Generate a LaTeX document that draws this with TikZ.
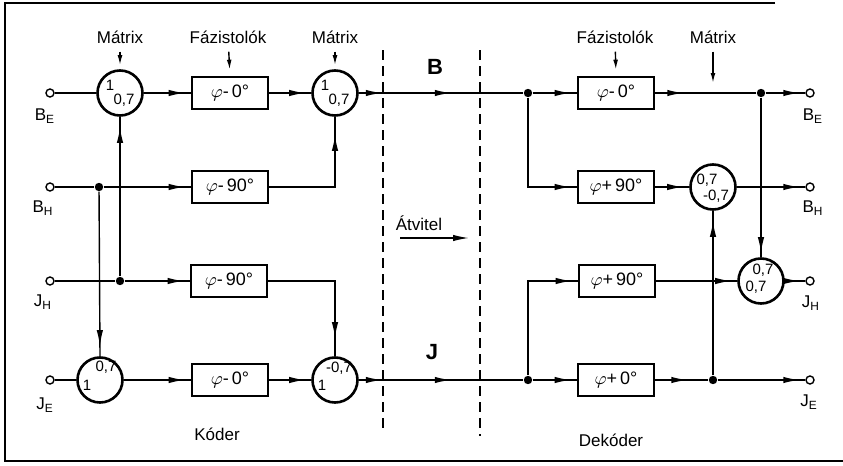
\documentclass[tikz,border=0pt]{standalone}
\usepackage{fontspec}
\setmainfont{Liberation Sans}
\usetikzlibrary{arrows.meta, decorations.markings}

\begin{document}
\begin{tikzpicture}[
    x=0.5pt, y=-0.5pt,
    >={Latex[length=8pt,width=3.2pt]},
    wire/.style={line width=0.7pt},
    arrow/.style={line width=0.7pt,-{Latex[length=5pt,width=2.4pt]}},
    flowto/.style={line width=0.7pt, decoration={markings, mark=at position #1 with {\arrow{>}}}, postaction={decorate}},
    flowto/.default=-3pt,
    phase/.style={rectangle, draw, line width=1.3pt, minimum width=38pt, minimum height=16pt, inner sep=1pt, font=\fontsize{9}{10}\selectfont},
    mixer/.style={circle, draw, line width=1.3pt, minimum size=22.5pt, inner sep=0pt},
    dot/.style={circle, fill, inner sep=0pt, minimum size=4.2pt},
    port/.style={circle, draw, fill=white, line width=0.7pt, inner sep=0pt, minimum size=4pt},
    coef/.style={inner sep=0pt, font=\fontsize{7.5}{8}\selectfont},
    caption/.style={inner sep=1pt, font=\fontsize{8.5}{9}\selectfont},
    channel/.style={inner sep=1pt, font=\fontsize{11}{12}\selectfont\bfseries},
    divider/.style={line width=0.7pt, dash pattern=on 5pt off 3pt}
]
\useasboundingbox (0,0) rectangle (843,466);

% Keret
\draw[line width=0.8pt] (775,3) -- (5,3) -- (5,461) -- (843,461);

% Bemenetek (kóder)
\node[port] (inBE) at (50,93) {};
\node[port] (inBH) at (50,187) {};
\node[port] (inJH) at (50,281) {};
\node[port] (inJE) at (50,380) {};
\node[caption] (lbinBE) at (45,116) {B\textsubscript{E}};
\node[caption] (lbinBH) at (43,208) {B\textsubscript{H}};
\node[caption] (lbinJH) at (43,302) {J\textsubscript{H}};
\node[caption] (lbinJE) at (45,405) {J\textsubscript{E}};

% Mátrixok és fázistolók (kóder)
\node[mixer] (m1) at (120,93) {};
\node[mixer] (m2) at (335,93) {};
\node[mixer] (m3) at (100,380) {};
\node[mixer] (m4) at (335,380) {};
\node[coef] (m1a) at (110,85) {1};
\node[coef] (m1b) at (124,100) {0,7};
\node[coef] (m2a) at (325,85) {1};
\node[coef] (m2b) at (339,100) {0,7};
\node[coef] (m3a) at (87,385) {1};
\node[coef] (m3b) at (106,367) {0,7};
\node[coef] (m4a) at (322,385) {1};
\node[coef] (m4b) at (339,368) {-0,7};

\node[phase] (f1) at (230,93) {$\varphi$-\,0°};
\node[phase] (f2) at (230,187) {$\varphi$-\,90°};
\node[phase] (f3) at (229,281) {$\varphi$-\,90°};
\node[phase] (f4) at (230,380) {$\varphi$-\,0°};

\node[dot] (jBH) at (99,187) {};
\node[dot] (jJH) at (120,281) {};

% Feliratok (kóder)
\node[caption] (lmx1) at (120,37) {Mátrix};
\node[caption] (lfz1) at (228,37) {Fázistolók};
\node[caption] (lmx2) at (335,37) {Mátrix};
\node[caption] (lkod) at (217,434) {Kóder};
\draw[arrow, shorten <=3pt, shorten >=2pt] (lmx1) -- (m1.north);
\draw[arrow, shorten <=3pt, shorten >=3pt] (lfz1) -- (f1.north);
\draw[arrow, shorten <=3pt, shorten >=2pt] (lmx2) -- (m2.north);

% Átvitel
\node[channel] (chB) at (435,67) {B};
\node[channel] (chJ) at (432,352) {J};
\node[caption] (ltx) at (419,223) {Átvitel};
\coordinate (txa) at (400,238);
\coordinate (txb) at (469,238);
\draw[wire, ->] (txa) -- (txb);
\coordinate (s1a) at (383,50);
\coordinate (s1b) at (383,430);
\coordinate (s2a) at (480,50);
\coordinate (s2b) at (480,436);
\draw[divider] (s1a) -- (s1b);
\draw[divider] (s2a) -- (s2b);

% Dekóder
\node[dot] (dotB) at (528,93) {};
\node[dot] (dotJ) at (528,380) {};
\node[phase] (g1) at (616,93) {$\varphi$-\,0°};
\node[phase] (g2) at (616,187) {$\varphi$+\,90°};
\node[phase] (g3) at (617,281) {$\varphi$+\,90°};
\node[phase] (g4) at (616,380) {$\varphi$+\,0°};
\node[mixer] (dm1) at (713,187) {};
\node[mixer] (dm2) at (761,281) {};
\node[coef] (dm1a) at (707,180) {0,7};
\node[coef] (dm1b) at (716,196) {-0,7};
\node[coef] (dm2a) at (763,270) {0,7};
\node[coef] (dm2b) at (756,287) {0,7};
\node[dot] (dotBE) at (761,93) {};
\node[dot] (dotJE) at (713,380) {};

\node[port] (outBE) at (810,93) {};
\node[port] (outBH) at (810,187) {};
\node[port] (outJH) at (810,281) {};
\node[port] (outJE) at (810,380) {};
\node[caption] (lboutBE) at (813,116) {B\textsubscript{E}};
\node[caption] (lboutBH) at (813,208) {B\textsubscript{H}};
\node[caption] (lboutJH) at (811,303) {J\textsubscript{H}};
\node[caption] (lboutJE) at (809,402) {J\textsubscript{E}};

\node[caption] (lfz2) at (615,37) {Fázistolók};
\node[caption] (lmx3) at (713,37) {Mátrix};
\node[caption] (ldek) at (611,440) {Dekóder};
\coordinate (dmx) at (713,83);
\draw[arrow, shorten <=3pt, shorten >=3pt] (lfz2) -- (g1.north);
\draw[arrow, shorten <=3pt] (lmx3) -- (dmx);

% JELUTAK - kóder
\draw[wire] (inBE) -- (m1);
\draw[flowto] (m1) -- (f1);
\draw[flowto] (f1) -- (m2);
\draw[wire] (inBH) -- (jBH);
\draw[flowto] (jBH) -- (f2);
\draw[flowto=-9pt] (f2.east) -| (m2.south);
\draw[wire] (inJH) -- (jJH);
\draw[flowto] (jJH) -- (f3);
\draw[flowto=-9pt] (f3.east) -| (m4.north);
\draw[wire] (inJE) -- (m3);
\draw[flowto] (m3) -- (f4);
\draw[flowto] (f4) -- (m4);
\draw[flowto=-5pt] (jBH) -- (m3.north);
\draw[flowto=-5pt] (jJH) -- (m1.south);

% JELUTAK - átvitel
\draw[wire, decoration={markings, mark=at position 11.5pt with {\arrow{>}}, mark=at position 46pt with {\arrow{>}}}, postaction={decorate}] (m2) -- (dotB);
\draw[wire, decoration={markings, mark=at position 11.5pt with {\arrow{>}}, mark=at position 46pt with {\arrow{>}}}, postaction={decorate}] (m4) -- (dotJ);

% JELUTAK - dekóder
\draw[flowto] (dotB) -- (g1);
\draw[flowto] (dotB) |- (g2.west);
\draw[flowto] (dotJ) -- (g4);
\draw[flowto] (dotJ) |- (g3.west);
\draw[flowto=14pt] (g1) -- (dotBE);
\draw[flowto] (dotBE) -- (outBE);
\draw[flowto] (g2) -- (dm1);
\draw[flowto] (dm1) -- (outBH);
\draw[flowto] (g3) -- (dm2);
\draw[flowto] (dm2) -- (outJH);
\draw[flowto=16pt] (g4) -- (dotJE);
\draw[flowto] (dotJE) -- (outJE);
\draw[flowto=-5pt] (dotJE) -- (dm1.south);
\draw[flowto=-2pt] (dotBE) -- (dm2.north);

\end{tikzpicture}
\end{document}
